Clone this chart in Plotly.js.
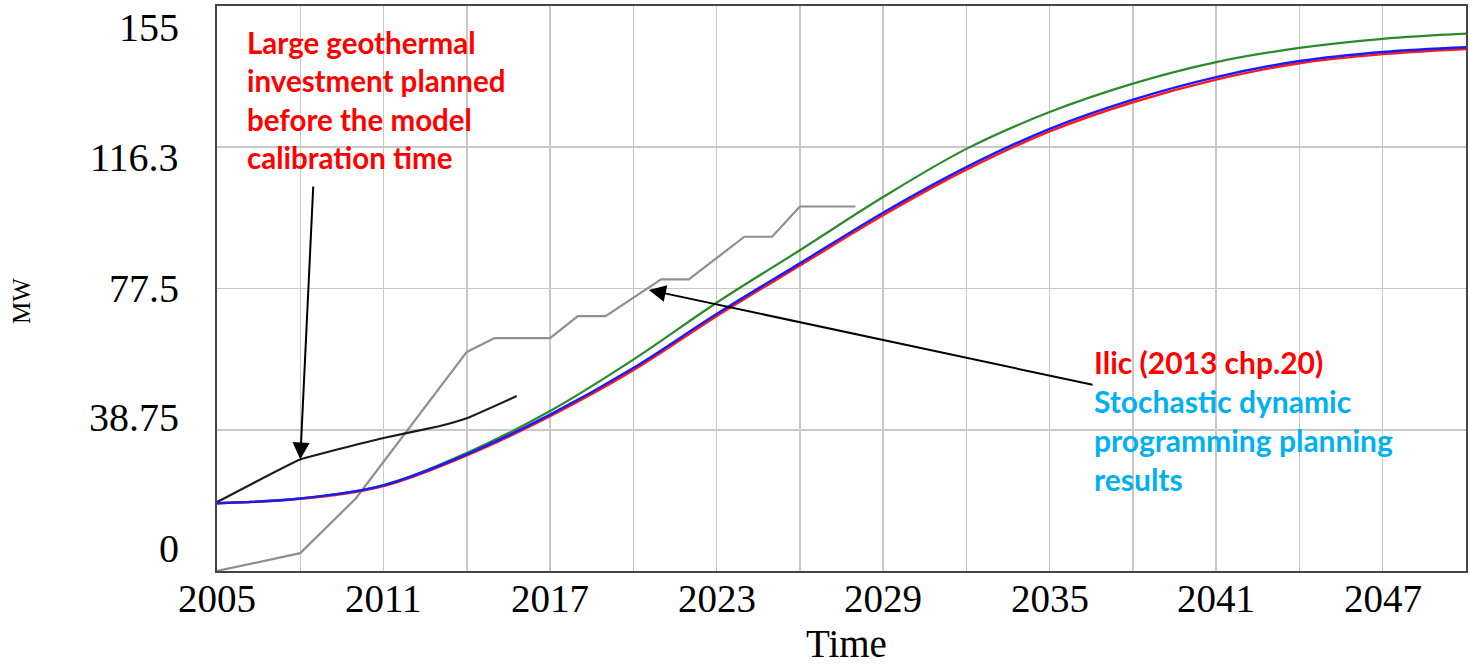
<!DOCTYPE html>
<html>
<head>
<meta charset="utf-8">
<script src="https://cdn.plot.ly/plotly-3.0.1.min.js"></script>
<style>html,body{margin:0;padding:0;background:#fff;}#chart{width:1470px;height:666px;}</style>
</head>
<body>
<div id="chart"></div>
<script>
// ---- data ----
const curveYears = [2005, 2008, 2011, 2014, 2017, 2020, 2023, 2026, 2029, 2032, 2035, 2038, 2041, 2044, 2047, 2050];
const blueVals   = [18.6, 19.9, 23.5, 32.0, 42.9, 55.7, 70.5, 84.4, 98.3, 110.8, 121.3, 129.3, 135.5, 139.9, 142.4, 143.7];
const redVals    = [18.6, 19.8, 23.3, 31.7, 42.5, 55.1, 69.9, 83.8, 97.6, 110.1, 120.6, 128.6, 134.8, 139.3, 141.8, 143.2];
const greenVals  = [18.6, 19.9, 23.6, 32.4, 43.9, 58.0, 73.6, 88.0, 102.6, 115.8, 125.9, 133.7, 139.6, 143.5, 146.0, 147.4];

const grayYears = [2005, 2008, 2010, 2014, 2015, 2017, 2018, 2019, 2021, 2022, 2024, 2025, 2026, 2028];
const grayVals  = [0, 4.9, 19.9, 60.1, 63.9, 63.9, 69.9, 69.9, 80.0, 80.0, 91.7, 91.7, 100.0, 100.0];

const blackYears = [2005, 2008, 2011, 2013, 2014, 2015.8];
const blackVals  = [18.9, 30.6, 36.5, 39.7, 41.9, 48.0];

const xGridYears = [2005, 2008, 2011, 2014, 2017, 2020, 2023, 2026, 2029, 2032, 2035, 2038, 2041, 2044, 2047, 2050];
const xTickText  = ['2005', '', '2011', '', '2017', '', '2023', '', '2029', '', '2035', '', '2041', '', '2047', ''];
const yTickVals  = [0, 38.75, 77.5, 116.3, 155];
const yTickText  = ['0', '38.75', '77.5', '116.3', '155'];

const noteLeft  = ['Large geothermal', 'investment planned', 'before the model', 'calibration time'];
const noteRightTitle = 'Ilic (2013 chp.20)';
const noteRightBody  = ['Stochastic dynamic', 'programming planning', 'results'];

// ---- traces ----
const traces = [
  {x: grayYears, y: grayVals, mode: 'lines', line: {color: '#8f8f8f', width: 2.2}, hoverinfo: 'skip'},
  {x: blackYears, y: blackVals, mode: 'lines', line: {color: '#1a1a1a', width: 2.2, shape: 'spline', smoothing: 0.3}, hoverinfo: 'skip'},
  {x: curveYears, y: greenVals, mode: 'lines', line: {color: '#2b8a2b', width: 2.2, shape: 'spline'}, hoverinfo: 'skip'},
  {x: curveYears, y: redVals, mode: 'lines', line: {color: '#ff1a1a', width: 2.4, shape: 'spline'}, hoverinfo: 'skip'},
  {x: curveYears, y: blueVals, mode: 'lines', line: {color: '#1a1aff', width: 2.4, shape: 'spline'}, hoverinfo: 'skip'}
];

// ---- annotations ----
const serif = 'Liberation Serif, Times New Roman, serif';
const sans = 'Lato, Calibri, Open Sans, sans-serif';
const annotations = [];

// y tick labels (placed compressed between plot top and bottom, like the original)
const labBottom = 23 / 565, labTop = 543 / 565;
yTickVals.forEach((v, i) => {
  annotations.push({
    xref: 'paper', yref: 'paper', x: -0.029, y: labBottom + (v / 155) * (labTop - labBottom),
    xanchor: 'right', yanchor: 'middle', showarrow: false, text: yTickText[i],
    font: {family: serif, size: 40, color: '#000'}
  });
});

// x tick labels at their grid years
xGridYears.forEach((yr, i) => {
  if (!xTickText[i]) return;
  annotations.push({
    xref: 'x', yref: 'paper', x: yr, y: -0.0495,
    xanchor: 'center', yanchor: 'middle', showarrow: false, text: xTickText[i],
    borderpad: 0, font: {family: serif, size: 39, color: '#000'}
  });
});

// axis titles
annotations.push({
  xref: 'paper', yref: 'paper', x: -0.156, y: 0.478, textangle: -90,
  xanchor: 'center', yanchor: 'middle', showarrow: false, text: 'MW',
  font: {family: serif, size: 25, color: '#000'}
});
annotations.push({
  xref: 'paper', yref: 'paper', x: 0.504, y: -0.1675,
  xanchor: 'center', yanchor: 'bottom', showarrow: false, text: 'Time', borderpad: 0,
  font: {family: serif, size: 39, color: '#000'}
});

// left note
annotations.push({
  xref: 'paper', yref: 'paper', x: 0.0224, y: 0.8336, xanchor: 'left', yanchor: 'middle',
  align: 'left', showarrow: false, text: noteLeft.join('<br>'),
  font: {family: sans, size: 29.5, color: '#ff0000', weight: 'bold'}
});

// right note
annotations.push({
  xref: 'paper', yref: 'paper', x: 0.7006, y: 0.267, xanchor: 'left', yanchor: 'middle',
  align: 'left', showarrow: false,
  text: noteRightTitle + '<br>' + noteRightBody.map(t => '<span style="color:#00b0f0">' + t + '</span>').join('<br>'),
  font: {family: sans, size: 30, color: '#ff0000', weight: 'bold'}
});

// arrows
annotations.push({
  xref: 'x', yref: 'y', axref: 'x', ayref: 'y', x: blackYears[1], y: blackVals[1],
  ax: 2008.47, ay: 105.9, text: '', showarrow: true, arrowhead: 2, arrowsize: 1.7,
  arrowwidth: 2, arrowcolor: '#000', standoff: 0
});
annotations.push({
  xref: 'x', yref: 'y', axref: 'x', ayref: 'y', x: 2020.56, y: 77.1,
  ax: 2036.6, ay: 51.0, text: '', showarrow: true, arrowhead: 2, arrowsize: 1.7,
  arrowwidth: 2, arrowcolor: '#000', standoff: 0
});

const layout = {
  width: 1470, height: 666,
  margin: {l: 217, r: 4, t: 6, b: 95},
  paper_bgcolor: '#fff', plot_bgcolor: '#fff',
  showlegend: false,
  font: {family: serif, color: '#000'},
  xaxis: {
    range: [2005, 2050], tickvals: xGridYears, showticklabels: false,
    showgrid: true, gridcolor: '#c8c8c8', gridwidth: 1.5, zeroline: false,
    showline: true, mirror: true, linecolor: '#444', linewidth: 2, ticks: ''
  },
  yaxis: {
    range: [0, 155], tickvals: yTickVals, showticklabels: false,
    showgrid: true, gridcolor: '#c8c8c8', gridwidth: 1.5, zeroline: false,
    showline: true, mirror: true, linecolor: '#444', linewidth: 2, ticks: ''
  },
  annotations: annotations
};

Plotly.newPlot('chart', traces, layout, {displayModeBar: false, staticPlot: true});
</script>
</body>
</html>
